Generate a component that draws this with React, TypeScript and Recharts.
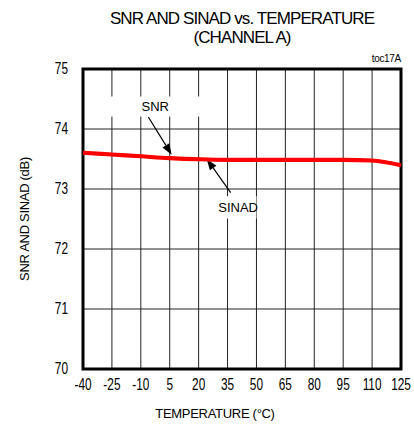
import { LineChart, Line, XAxis, YAxis, CartesianGrid, ReferenceArea, ReferenceLine } from "recharts"

// temperature points (°C) and measured values (dB)
const temps = [-40, -25, -10, 5, 20, 35, 50, 65, 80, 95, 110, 125]
const snr = [73.61, 73.58, 73.55, 73.52, 73.5, 73.49, 73.49, 73.49, 73.49, 73.49, 73.48, 73.4]
const sinad = [73.6, 73.57, 73.54, 73.51, 73.49, 73.48, 73.48, 73.48, 73.48, 73.48, 73.47, 73.39]
const yTicks = [70, 71, 72, 73, 74, 75]

const data = temps.map((t, i) => ({ temp: t, snr: snr[i], sinad: sinad[i] }))

const sans = "'Liberation Sans', Arial, sans-serif"

// condensed tick text, like the narrow font of the original plot
const NarrowTick = (props: any) => {
  const { x, y, payload, textAnchor, orient } = props
  const dy = orient === "bottom" ? 16 : 5
  return (
    <g transform={`translate(${x},${y}) scale(0.74,1)`}>
      <text x={0} y={dy} textAnchor={textAnchor} fill="#000" fontSize={16} fontFamily={sans}>
        {payload.value}
      </text>
    </g>
  )
}

// line with a filled arrow head at (x2, y2)
const Arrow = (props: any) => {
  const { x1, y1, x2, y2 } = props
  const ang = Math.atan2(y2 - y1, x2 - x1)
  const len = 11
  const half = 4
  const bx = x2 - len * Math.cos(ang)
  const by = y2 - len * Math.sin(ang)
  const px = -Math.sin(ang) * half
  const py = Math.cos(ang) * half
  return (
    <g>
      <line x1={x1} y1={y1} x2={bx} y2={by} stroke="#000" strokeWidth={1.2} />
      <polygon points={`${x2},${y2} ${bx + px},${by + py} ${bx - px},${by - py}`} fill="#000" />
    </g>
  )
}

export default function App() {
  return (
    <div style={{ position: "absolute", left: 0, top: 0, width: 414, height: 428, background: "#fff" }}>
      <div
        style={{
          position: "absolute",
          left: 83,
          width: 318,
          top: 9,
          textAlign: "center",
          fontFamily: sans,
          fontSize: 17,
          letterSpacing: -0.9,
          lineHeight: "19px",
          color: "#000",
        }}
      >
        <div>SNR AND SINAD vs. TEMPERATURE</div>
        <div>(CHANNEL A)</div>
      </div>
      <div
        style={{
          position: "absolute",
          right: 13,
          top: 53,
          fontFamily: sans,
          fontSize: 10,
          letterSpacing: -0.3,
          color: "#000",
        }}
      >
        toc17A
      </div>
      <LineChart
        width={414}
        height={428}
        data={data}
        margin={{ top: 69, right: 13, bottom: 0, left: 0 }}
        style={{ position: "absolute", left: 0, top: 0 }}
      >
        <CartesianGrid stroke="#222" strokeWidth={1} />
        <XAxis
          dataKey="temp"
          type="number"
          domain={[-40, 125]}
          ticks={temps}
          height={59}
          axisLine={false}
          tickLine={false}
          tickSize={0}
          tickMargin={5}
          tick={<NarrowTick orient="bottom" />}
          interval={0}
          label={{
            value: "TEMPERATURE  (°C)",
            position: "insideBottom",
            offset: 10,
            dx: -27,
            fill: "#000",
            fontSize: 13,
            fontFamily: sans,
            letterSpacing: -0.3,
          }}
        />
        <YAxis
          type="number"
          domain={[70, 75]}
          ticks={yTicks}
          width={83}
          axisLine={false}
          tickLine={false}
          tickSize={0}
          tickMargin={15}
          tick={<NarrowTick orient="left" />}
          label={{
            value: "SNR AND SINAD (dB)",
            angle: -90,
            position: "insideLeft",
            offset: 24,
            fill: "#000",
            fontSize: 13,
            fontFamily: sans,
            letterSpacing: -0.3,
            style: { textAnchor: "middle" },
          }}
        />
        {/* white boxes behind the callout labels */}
        <ReferenceArea
          x1={-26}
          x2={21}
          y1={74.21}
          y2={74.54}
          fill="#fff"
          fillOpacity={1}
          stroke="none"
          label={{ value: "SNR", position: "center", fill: "#000", fontSize: 13, fontFamily: sans }}
        />
        <ReferenceArea
          x1={31}
          x2={50}
          y1={72.51}
          y2={72.88}
          fill="#fff"
          fillOpacity={1}
          stroke="none"
          label={{ value: "SINAD", position: "center", fill: "#000", fontSize: 13, fontFamily: sans }}
        />
        <ReferenceLine segment={[{ x: -6.1, y: 74.2 }, { x: 6, y: 73.57 }]} shape={Arrow} />
        <ReferenceLine segment={[{ x: 36.6, y: 72.94 }, { x: 24.2, y: 73.5 }]} shape={Arrow} />
        <Line
          type="monotone"
          dataKey="sinad"
          stroke="#ff0000"
          strokeWidth={3.5}
          dot={false}
          isAnimationActive={false}
        />
        <Line
          type="monotone"
          dataKey="snr"
          stroke="#ff0000"
          strokeWidth={3.5}
          dot={false}
          isAnimationActive={false}
        />
        {/* plot frame */}
        <ReferenceArea
          x1={-40}
          x2={125}
          y1={70}
          y2={75}
          fill="none"
          stroke="#000"
          strokeWidth={3}
          ifOverflow="visible"
        />
      </LineChart>
    </div>
  )
}
